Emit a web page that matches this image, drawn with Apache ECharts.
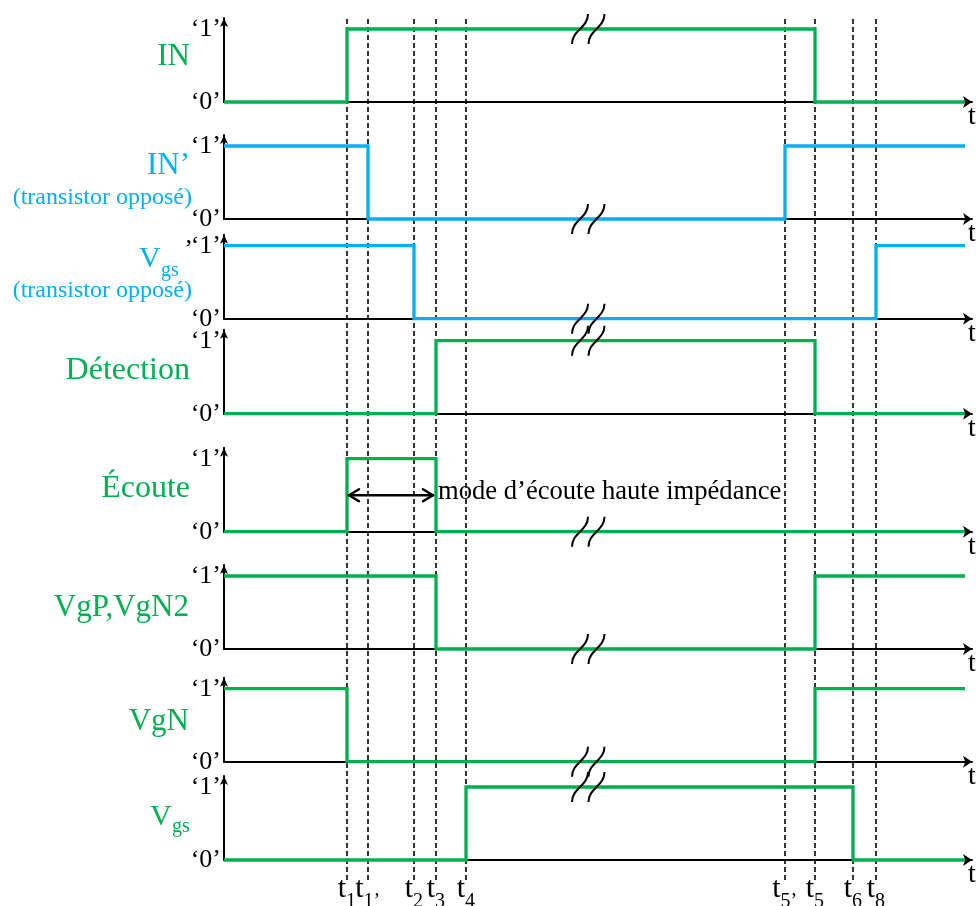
<!DOCTYPE html>
<html><head><meta charset="utf-8">
<script src="https://cdn.jsdelivr.net/npm/echarts@6/dist/echarts.min.js"></script>
<style>html,body{margin:0;padding:0;background:#fff}#c{width:980px;height:906px}</style>
</head><body><div id="c"></div>
<script>
// ---------------- data ----------------
// time instants (arbitrary time units along the t axis)
const t1 = 123, t1p = 144, t2 = 190, t3 = 212, t4 = 242, t5p = 561, t5 = 591, t6 = 629, t8 = 652, tEnd = 741;
const tAxisMax = 748;
const tBreak = 364;
const markTimes = [t1, t1p, t2, t3, t4, t5p, t5, t6, t8];
const markSubs  = ['1', '1’', '2', '3', '4', '5’', '5', '6', '8'];

// logic levels as step points [time, level]
const sigIN     = [[0, 0], [t1, 1], [t5, 0], [tEnd, 0]];
const sigINp    = [[0, 1], [t1p, 0], [t5p, 1], [tEnd, 1]];
const sigVgsp   = [[0, 1], [t2, 0], [t8, 1], [tEnd, 1]];
const sigDetect = [[0, 0], [t3, 1], [t5, 0], [tEnd, 0]];
const sigEcoute = [[0, 0], [t1, 1], [t3, 0], [tEnd, 0]];
const sigVgP    = [[0, 1], [t3, 0], [t5, 1], [tEnd, 1]];
const sigVgN    = [[0, 1], [t1, 0], [t5, 1], [tEnd, 1]];
const sigVgs    = [[0, 0], [t4, 1], [t6, 0], [tEnd, 0]];
const signals = [sigIN, sigINp, sigVgsp, sigDetect, sigEcoute, sigVgP, sigVgN, sigVgs];
const breakLevels = [1, 0, 0, 1, 0, 0, 0, 1];
const yTickLabels = ['‘0’', '‘1’'];
const annotSpan = [t1, t3];
const annotLevel = 0.5;
const annotText = 'mode d’écoute haute impédance';

// ---------------- style / layout ----------------
const FONT = "'Liberation Serif','Times New Roman',serif";
const GREEN = '#00B050', CYAN = '#00B0F0';
const signalColors = [GREEN, CYAN, CYAN, GREEN, GREEN, GREEN, GREEN, GREEN];
const rowZeroY = [102, 219, 318.7, 413.7, 531.7, 649, 761.7, 860];
const unitH = 73, yMax = 1.15, plotLeft = 224;

const grids = [], xAxes = [], yAxes = [], series = [];
rowZeroY.forEach((z, i) => {
  grids.push({ left: plotLeft, width: tAxisMax, top: z - unitH * yMax, height: unitH * yMax });
  xAxes.push({
    gridIndex: i, type: 'value', min: 0, max: tAxisMax,
    axisLine: { show: true, symbol: ['none', 'arrow'], symbolSize: [9, 9], lineStyle: { color: '#000', width: 2 } },
    axisTick: { show: false }, axisLabel: { show: false }, splitLine: { show: false },
    name: 't', nameLocation: 'end', nameGap: 0,
    nameTextStyle: { fontFamily: FONT, fontSize: 28, color: '#000', align: 'center', verticalAlign: 'top', padding: [1, 0, 0, 0] }
  });
  yAxes.push({
    gridIndex: i, type: 'value', min: 0, max: yMax, interval: 1,
    axisLine: { show: true, symbol: ['none', 'arrow'], symbolSize: [6, 9], lineStyle: { color: '#000', width: 2 } },
    axisTick: { show: false }, splitLine: { show: false },
    axisLabel: {
      margin: 3, fontFamily: FONT, fontSize: 26, color: '#000',
      formatter: v => (v === 0 ? yTickLabels[0] : (v === 1 ? yTickLabels[1] : ''))
    }
  });
  series.push({
    type: 'line', xAxisIndex: i, yAxisIndex: i, data: signals[i], step: 'end',
    symbol: 'none', showSymbol: false, clip: false, z: 3, silent: true,
    lineStyle: { color: signalColors[i], width: 3.3, join: 'miter' }, itemStyle: { color: signalColors[i] }
  });
  series.push({
    type: 'custom', xAxisIndex: i, yAxisIndex: i, z: 5, silent: true,
    data: [[tBreak, breakLevels[i]]],
    renderItem: (params, api) => {
      const p = api.coord([api.value(0), api.value(1)]);
      const st = { stroke: '#000', lineWidth: 2, fill: null };
      const curve = cx => ({ type: 'bezierCurve', shape: { x1: cx - 8, y1: p[1] + 15, cpx1: cx - 8, cpy1: p[1] + 1, cpx2: cx + 8, cpy2: p[1] - 1, x2: cx + 8, y2: p[1] - 15 }, style: st });
      return { type: 'group', children: [curve(p[0] - 8), curve(p[0] + 8.5)] };
    }
  });
});

// overlay grid for the dashed time markers
const OV = rowZeroY.length;
grids.push({ left: plotLeft, width: tAxisMax, top: 17, height: 863 });
xAxes.push({ gridIndex: OV, type: 'value', min: 0, max: tAxisMax, show: false });
yAxes.push({ gridIndex: OV, type: 'value', min: 0, max: 1, show: false });
series.push({
  type: 'custom', xAxisIndex: OV, yAxisIndex: OV, z: 1, silent: true,
  data: markTimes.map((t, i) => [t, 0, 1, i]),
  renderItem: (params, api) => {
    const pb = api.coord([api.value(0), api.value(1)]);
    const pt = api.coord([api.value(0), api.value(2)]);
    const sub = markSubs[api.value(3)];
    const subW = sub.length === 1 ? 10 : 17;
    const off = 4 - subW / 2;
    return {
      type: 'group', children: [
        { type: 'line', shape: { x1: pb[0], y1: pb[1], x2: pt[0], y2: pt[1] }, style: { stroke: '#000', lineWidth: 1.6, lineDash: [5, 3] } },
        { type: 'text', x: pb[0] + off, y: pb[1] + 9, style: { text: 't', fill: '#000', fontFamily: FONT, fontSize: 30, align: 'right', textAlign: 'right', verticalAlign: 'middle', textVerticalAlign: 'middle' } },
        { type: 'text', x: pb[0] + off, y: pb[1] + 22, style: { text: sub, fill: '#000', fontFamily: FONT, fontSize: 20, align: 'left', textAlign: 'left', verticalAlign: 'middle', textVerticalAlign: 'middle' } }
      ]
    };
  }
});

// double arrow + annotation in the Écoute row
series.push({
  type: 'custom', xAxisIndex: 4, yAxisIndex: 4, z: 6, silent: true,
  data: [[annotSpan[0], annotSpan[1], annotLevel]],
  renderItem: (params, api) => {
    const a = api.coord([api.value(0), api.value(2)]);
    const b = api.coord([api.value(1), api.value(2)]);
    const x1 = a[0] + 2, x2 = b[0] - 3, y = a[1];
    const st = { stroke: '#000', lineWidth: 2.5, fill: null, lineCap: 'round', lineJoin: 'round' };
    return {
      type: 'group', children: [
        { type: 'line', shape: { x1: x1, y1: y, x2: x2, y2: y }, style: st },
        { type: 'polyline', shape: { points: [[x1 + 10, y - 6], [x1, y], [x1 + 10, y + 6]] }, style: st },
        { type: 'polyline', shape: { points: [[x2 - 10, y - 6], [x2, y], [x2 - 10, y + 6]] }, style: st },
        { type: 'text', x: b[0] + 2, y: y - 3, style: { text: annotText, fill: '#000', fontFamily: FONT, fontSize: 26.6, align: 'left', textAlign: 'left', verticalAlign: 'middle', textVerticalAlign: 'middle' } }
      ]
    };
  }
});

// row names
function T(text, x, y, size, color, align) {
  return { type: 'text', x: x, y: y, silent: true, z: 10,
    style: { text: text, fill: color, fontFamily: FONT, fontSize: size,
      align: align || 'right', textAlign: align || 'right', verticalAlign: 'middle', textVerticalAlign: 'middle' } };
}
const graphic = [
  T('IN', 190, 57, 31, GREEN),
  T('IN’', 190, 166, 31, CYAN),
  T('(transistor opposé)', 192, 198, 24, CYAN),
  T('V', 139, 259, 30, CYAN, 'left'),
  T('gs', 161, 271, 20, CYAN, 'left'),
  T('’', 193, 250, 26, '#000'),
  T('(transistor opposé)', 192, 291, 24, CYAN),
  T('Détection', 190, 371, 32, GREEN),
  T('Écoute', 190, 489, 32, GREEN),
  T('VgP,VgN2', 189, 608, 31, GREEN),
  T('VgN', 189, 722, 31, GREEN),
  T('V', 150, 817, 30, GREEN, 'left'),
  T('gs', 172, 827, 20, GREEN, 'left')
];

const chart = echarts.init(document.getElementById('c'), null, { renderer: 'canvas' });
chart.setOption({
  animation: false,
  backgroundColor: '#fff',
  grid: grids, xAxis: xAxes, yAxis: yAxes, series: series, graphic: graphic
});
</script>
</body></html>
